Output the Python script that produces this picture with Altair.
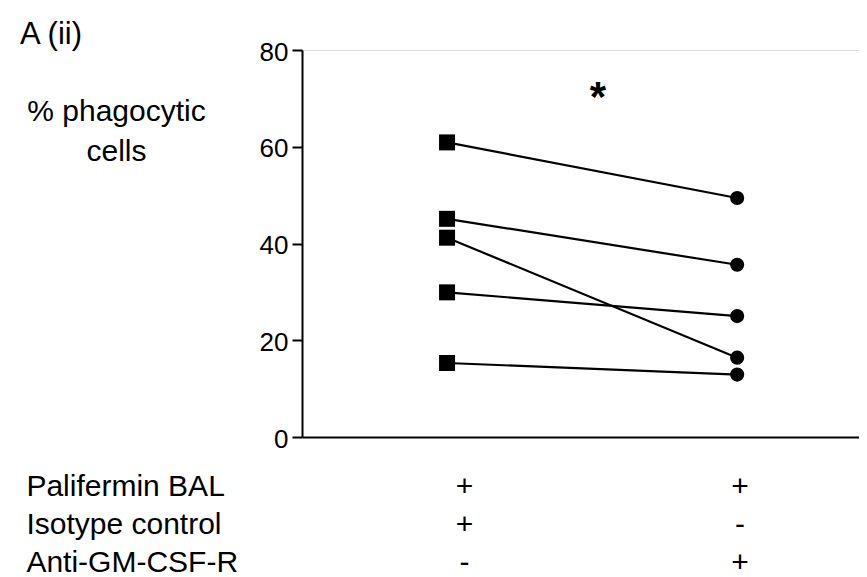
import altair as alt
import pandas as pd

# ---- data ----
subjects = ["S1", "S2", "S3", "S4", "S5"]
isotype_control = [60.9, 45.1, 41.2, 29.9, 15.3]
anti_gmcsfr = [49.4, 35.6, 16.4, 25.0, 12.9]
y_ticks = [0, 20, 40, 60, 80]
row_labels = ["Palifermin BAL", "Isotype control", "Anti-GM-CSF-R"]
signs_isotype = ["+", "+", "-"]
signs_anti = ["+", "-", "+"]
y_title = ["% phagocytic", "cells"]
panel_label = "A (ii)"
significance = "*"

FONT = "Liberation Sans"
TXT = 30

# long table for points / lines
rows = []
for s, a, b in zip(subjects, isotype_control, anti_gmcsfr):
    rows.append({"subject": s, "group": 1, "value": a})
    rows.append({"subject": s, "group": 2, "value": b})
df = pd.DataFrame(rows)

# condition table below the axis (data units, unclipped)
tab = []
for i, (lab, s1, s2) in enumerate(zip(row_labels, signs_isotype, signs_anti)):
    yrow = -10.4 - 7.8 * i
    tab.append({"x": -0.45, "y": yrow, "t": lab, "kind": "label"})
    tab.append({"x": 1.06, "y": yrow, "t": s1, "kind": "sign"})
    tab.append({"x": 2.01, "y": yrow, "t": s2, "kind": "sign"})
tdf = pd.DataFrame(tab)

star_df = pd.DataFrame({"x": [1.52], "y": [70.0], "t": [significance]})
panel_df = pd.DataFrame({"x": [-0.472], "y": [81.2], "t": [panel_label]})

xscale = alt.Scale(domain=[0.5, 2.42], nice=False, zero=False)
yscale = alt.Scale(domain=[0, 80], nice=False, zero=True)

xenc = alt.X("group:Q", scale=xscale,
             axis=alt.Axis(labels=False, ticks=False, title=None, grid=False,
                           domainColor="black", domainWidth=2))
yenc = alt.Y("value:Q", scale=yscale,
             axis=alt.Axis(values=y_ticks, tickSize=10, tickWidth=2, tickColor="black",
                           domainColor="black", domainWidth=2, grid=False,
                           labelFontSize=26, labelFont=FONT, labelColor="black",
                           labelPadding=4, labelOffset=2,
                           title=y_title, titleAngle=0, titleAlign="center",
                           titleBaseline="alphabetic", titleX=-186, titleY=70,
                           titleFontSize=TXT, titleFont=FONT, titleFontWeight="normal",
                           titleColor="black", titleLineHeight=40))

base = alt.Chart(df)
lines = base.mark_line(color="black", strokeWidth=2.2).encode(
    x=xenc, y=yenc, detail="subject:N")
squares = base.transform_filter("datum.group == 1").mark_point(
    shape="square", filled=True, size=256, color="black", opacity=1).encode(x="group:Q", y="value:Q")
circles = base.transform_filter("datum.group == 2").mark_circle(
    size=200, color="black", opacity=1).encode(x="group:Q", y="value:Q")

labels = alt.Chart(tdf).transform_filter("datum.kind == 'label'").mark_text(
    align="left", baseline="middle", fontSize=TXT, font=FONT, color="black").encode(
    x="x:Q", y="y:Q", text="t:N")
signs = alt.Chart(tdf).transform_filter("datum.kind == 'sign'").mark_text(
    align="center", baseline="middle", fontSize=TXT, font=FONT, color="black").encode(
    x="x:Q", y="y:Q", text="t:N")
star = alt.Chart(star_df).mark_text(
    align="center", baseline="middle", fontSize=42, fontWeight="bold", font=FONT,
    color="black").encode(x="x:Q", y="y:Q", text="t:N")
panel = alt.Chart(panel_df).mark_text(
    align="left", baseline="alphabetic", fontSize=31, font=FONT,
    color="black").encode(x="x:Q", y="y:Q", text="t:N")

chart = alt.layer(lines, squares, circles, labels, signs, star, panel).properties(
    width=557, height=387,
    padding={"left": 294, "top": 42, "right": 0, "bottom": 140},
    autosize=alt.AutoSizeParams(type="none"),
).configure_view(stroke=None).configure(background="white")

chart.save("out.html", embed_options={"renderer": "svg", "actions": False})
